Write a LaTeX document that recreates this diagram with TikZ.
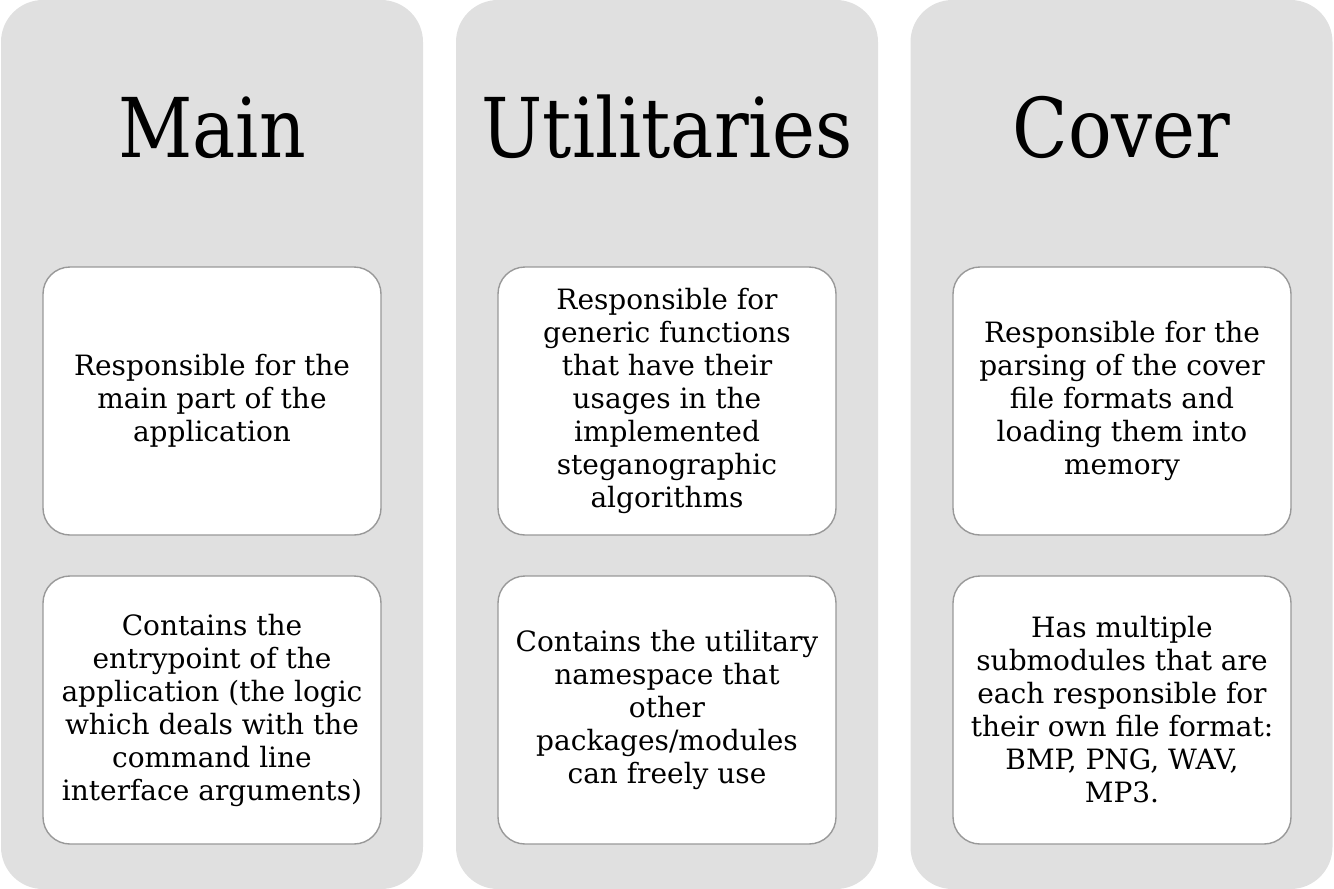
\documentclass[tikz,border=0pt]{standalone}
\usepackage{fontspec}
\setmainfont{DejaVu Serif}
% narrower cut of the serif face for the panel headings
\newfontfamily\headingface[FakeStretch=0.88]{DejaVu Serif}
\definecolor{panelgray}{HTML}{E0E0E0}
\definecolor{edgegray}{HTML}{999999}
\tikzset{
  panel/.style={fill=panelgray, draw=none, rounded corners=42pt,
    minimum width=422pt, minimum height=889pt, inner sep=0pt},
  paneltitle/.style={anchor=base, inner sep=0pt,
    font=\headingface\fontsize{82.5}{99}\selectfont},
  card/.style={fill=white, draw=edgegray, line width=1.4pt, rounded corners=27pt,
    minimum width=338pt, minimum height=268pt, inner sep=0pt, align=center,
    font=\fontsize{28}{33}\selectfont}
}
\begin{document}
\begin{tikzpicture}[x=1pt, y=-1pt]
  \useasboundingbox (0,0) rectangle (1334,889);

  % three module panels
  \node[panel] (mainP) at (212,444.5) {};
  \node[panel] (utilP) at (667,444.5) {};
  \node[panel] (covP)  at (1121.5,444.5) {};

  % panel titles
  \node[paneltitle] (mainT) at (212,157) {Main};
  \node[paneltitle] (utilT) at (667,157) {Utilitaries};
  \node[paneltitle] (covT)  at (1121.5,157) {Cover};

  % description cards
  \node[card] (main1) at (212,401) {Responsible for the\\main part of the\\application};
  \node[card] (main2) at (212,710) {Contains the\\entrypoint of the\\application (the logic\\which deals with the\\command line\\interface arguments)};

  \node[card] (util1) at (667,401) {Responsible for\\generic functions\\that have their\\usages in the\\implemented\\steganographic\\algorithms};
  \node[card] (util2) at (667,710) {Contains the utilitary\\namespace that\\other\\packages/modules\\can freely use};

  \node[card] (cov1) at (1122,401) {Responsible for the\\parsing of the cover\\file formats and\\loading them into\\memory};
  \node[card] (cov2) at (1122,710) {Has multiple\\submodules that are\\each responsible for\\their own file format:\\BMP, PNG, WAV,\\MP3.};
\end{tikzpicture}
\end{document}
